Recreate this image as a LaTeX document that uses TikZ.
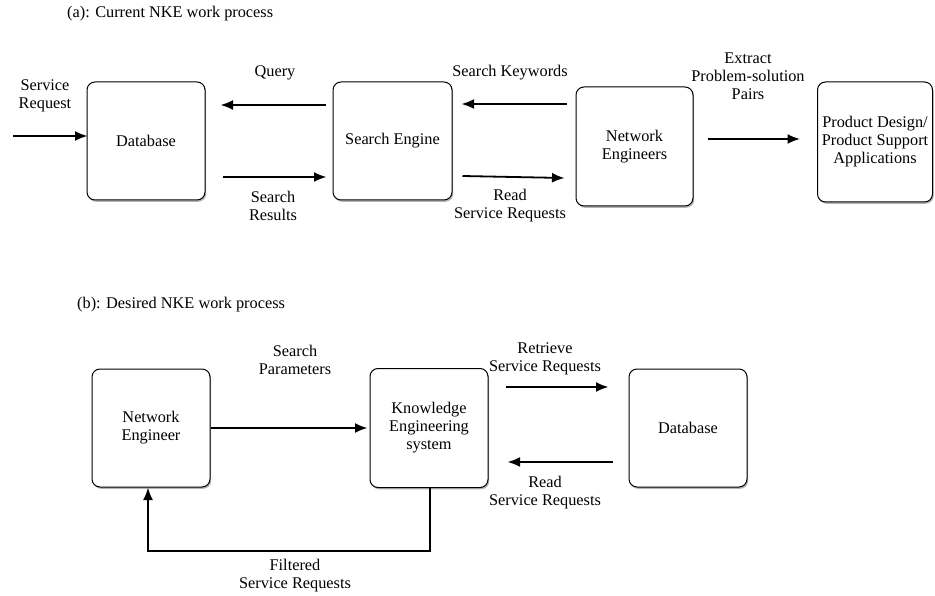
\documentclass[tikz,border=0pt]{standalone}
\usepackage{fontspec}
\setmainfont{Liberation Serif}
\usetikzlibrary{arrows.meta,shadows,calc}

\tikzset{
  box/.style={draw=black, line width=1pt, rounded corners=8pt, fill=white,
    align=center, inner sep=2pt,
    drop shadow={shadow xshift=1.2pt, shadow yshift=-1.8pt, fill=black!50, opacity=0.6}},
  arr/.style={line width=1.8pt, -{Latex[length=12.5pt,width=10pt]}},
  lbl/.style={align=center, inner sep=0pt},
  every node/.style={font=\fontsize{16.3}{18}\selectfont}
}

\begin{document}
\begin{tikzpicture}[x=1pt,y=-1pt]
\useasboundingbox (0,0) rectangle (935,596);

% ---------- (a) current process ----------
\node[lbl, anchor=west] (ta) at (67,14) {(a): Current NKE work process};

\node[box, minimum width=118pt, minimum height=118pt] (dbA) at (146,141) {Database};
\node[box, minimum width=119pt, minimum height=118pt] (se)  at (392.5,141) {Search Engine};
\node[box, minimum width=117pt, minimum height=119pt] (ne)  at (634.5,146.5) {Network\\Engineers};
\node[box, minimum width=115pt, minimum height=120pt] (pd)  at (875,142) {Product Design/\\Product Support\\Applications};

\coordinate (src) at (13,136);
\draw[arr] (src) -- ($(dbA.west)+(1,-5)$);
\node[lbl] (lsr) at (45,96) {Service\\Request};

\draw[arr] ($(se.west)+(-7,-36)$) -- ($(dbA.east)+(15,-36)$);
\node[lbl] (lq) at (275,73) {Query};

\draw[arr] ($(dbA.east)+(17,36)$) -- ($(se.west)+(-6,36)$);
\node[lbl] (lres) at (273,206) {Search\\Results};

\draw[arr] ($(ne.west)+(-9,-42.5)$) -- ($(se.east)+(9,-37)$);
\node[lbl] (lkw) at (510,73) {Search Keywords};

\draw[arr] ($(se.east)+(10,35)$) -- ($(ne.west)+(-11,31.5)$);
\node[lbl] (lrd) at (510,205.5) {Read\\Service Requests};

\draw[arr] ($(ne.east)+(14,-7.5)$) -- ($(pd.west)+(-17,-3)$);
\node[lbl] (lex) at (748,76) {Extract\\Problem-solution\\Pairs};

% ---------- (b) desired process ----------
\node[lbl, anchor=west] (tb) at (77,305) {(b): Desired NKE work process};

\node[box, minimum width=118pt, minimum height=118pt] (neB) at (151,428) {Network\\Engineer};
\node[box, minimum width=118pt, minimum height=119pt] (ke)  at (429,428) {Knowledge\\Engineering\\system};
\node[box, minimum width=118pt, minimum height=118pt] (dbB) at (688,428) {Database};

\draw[arr] (neB.east) -- ($(ke.west)+(-2,0)$);
\node[lbl] (lsp) at (295,359.5) {Search\\Parameters};

\draw[arr] ($(ke.east)+(17,-41)$) -- ($(dbB.west)+(-20,-41)$);
\node[lbl] (lrt) at (545,359) {Retrieve\\Service Requests};

\draw[arr] ($(dbB.west)+(-16,34)$) -- ($(ke.east)+(19,34)$);
\node[lbl] (lrb) at (545,493) {Read\\Service Requests};

\draw[arr] ($(ke.south)+(1,0)$) -- ++(0,63) -| ($(neB.south)+(-3,0)$);
\node[lbl] (lf) at (295,576) {Filtered\\Service Requests};

\end{tikzpicture}
\end{document}
